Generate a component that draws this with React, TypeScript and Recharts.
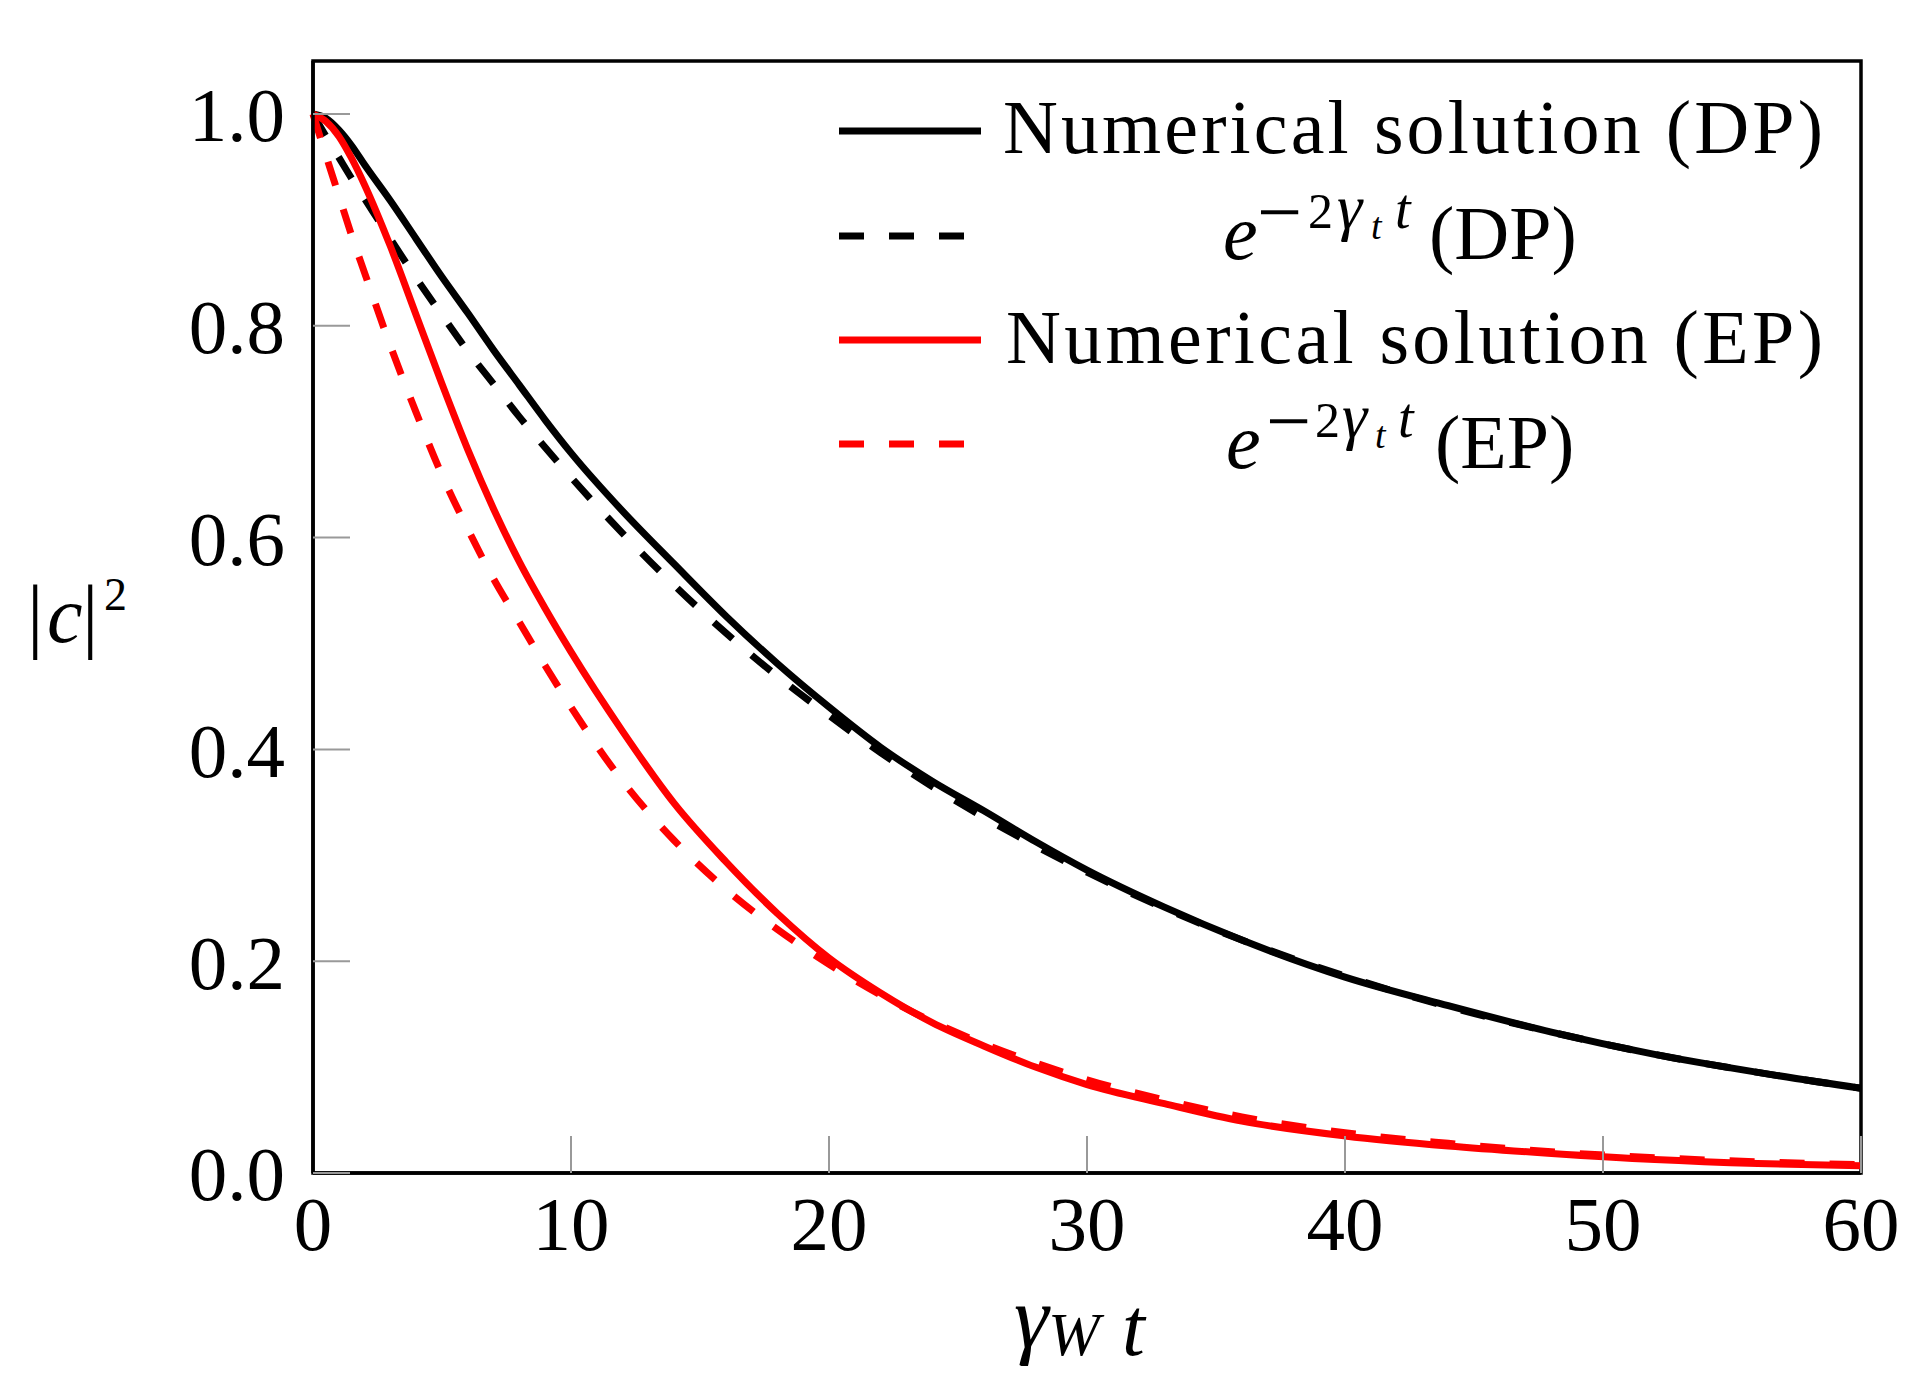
import React from 'react';
import { LineChart, Line, XAxis, YAxis, Legend, Label, ReferenceArea } from 'recharts';

const FONT = "'Liberation Serif', 'Times New Roman', serif";

const tValues = [0, 0.5, 1, 1.5, 2, 3, 4, 5, 6, 7, 8, 9, 10, 12, 14, 16, 18, 20, 22, 24, 26, 28, 30, 33, 36, 40, 44, 48, 52, 56, 60];
const dpNumerical = [1.0, 0.996, 0.985, 0.97, 0.952, 0.918, 0.882, 0.846, 0.812, 0.777, 0.744, 0.711, 0.68, 0.625, 0.575, 0.526, 0.481, 0.44, 0.402, 0.37, 0.342, 0.313, 0.286, 0.251, 0.22, 0.185, 0.158, 0.133, 0.112, 0.095, 0.08];
const dpExp = [1.0, 0.979, 0.959, 0.939, 0.92, 0.882, 0.845, 0.81, 0.776, 0.745, 0.714, 0.685, 0.657, 0.604, 0.555, 0.51, 0.469, 0.432, 0.397, 0.365, 0.336, 0.309, 0.284, 0.25, 0.22, 0.186, 0.157, 0.133, 0.112, 0.095, 0.08];
const epNumerical = [1.0, 0.993, 0.979, 0.958, 0.933, 0.875, 0.81, 0.745, 0.683, 0.627, 0.577, 0.533, 0.492, 0.417, 0.349, 0.294, 0.245, 0.203, 0.17, 0.142, 0.12, 0.1, 0.0835, 0.0655, 0.049, 0.035, 0.0255, 0.0185, 0.0128, 0.009, 0.0068];
const epExp = [1.0, 0.961, 0.923, 0.885, 0.85, 0.781, 0.718, 0.659, 0.608, 0.561, 0.52, 0.479, 0.44, 0.37, 0.314, 0.268, 0.23, 0.197, 0.168, 0.143, 0.122, 0.104, 0.088, 0.069, 0.053, 0.038, 0.028, 0.02, 0.0145, 0.0105, 0.0078];

const xTicks = [0, 10, 20, 30, 40, 50, 60];
const yTicks = [0, 0.2, 0.4, 0.6, 0.8, 1.0];
const xDomain = [0, 60];
const yDomain = [0, 1.05];

const data = tValues.map((t, i) => ({
  t,
  dpNum: dpNumerical[i],
  dpExp: dpExp[i],
  epNum: epNumerical[i],
  epExp: epExp[i],
}));

const BLACK = '#000000';
const RED = '#ff0000';
const DASH = '25 25';
const LW = 7;

function MathRow({ baseY, x, tag }: { baseY: number; x: number[]; tag: string }) {
  const sup = baseY - 31;
  return (
    <text fontFamily={FONT} fill="#000">
      <tspan x={x[0]} y={baseY} fontSize={78} fontStyle="italic">e</tspan>
      <tspan x={x[1]} y={sup + 11} fontSize={80}>−</tspan>
      <tspan x={x[2]} y={sup} fontSize={50}>2</tspan>
      <tspan x={x[3]} y={sup} fontSize={64} fontStyle="italic">γ</tspan>
      <tspan x={x[4]} y={sup + 11} fontSize={38} fontStyle="italic">t</tspan>
      <tspan x={x[5]} y={sup} fontSize={56} fontStyle="italic">t</tspan>
      <tspan x={x[6]} y={baseY} fontSize={76}>{'(' + tag + ')'}</tspan>
    </text>
  );
}

function LegendBox() {
  return (
    <svg width={1040} height={420} style={{ display: 'block', overflow: 'visible' }}>
      <line x1={9} x2={151} y1={51} y2={51} stroke={BLACK} strokeWidth={LW} />
      <text x={173} y={73} fontFamily={FONT} fontSize={76} fill="#000" textLength={820} lengthAdjust="spacing">
        Numerical solution (DP)
      </text>

      <line x1={9} x2={134} y1={156} y2={156} stroke={BLACK} strokeWidth={LW} strokeDasharray={DASH} />
      <MathRow baseY={179} x={[393, 427, 478, 507, 541, 565, 599]} tag="DP" />

      <line x1={9} x2={151} y1={260} y2={260} stroke={RED} strokeWidth={LW} />
      <text x={176} y={283} fontFamily={FONT} fontSize={76} fill="#000" textLength={817} lengthAdjust="spacing">
        Numerical solution (EP)
      </text>

      <line x1={9} x2={134} y1={364} y2={364} stroke={RED} strokeWidth={LW} strokeDasharray={DASH} />
      <MathRow baseY={388} x={[396, 436, 485, 512, 545, 568, 605]} tag="EP" />
    </svg>
  );
}

function XLabelContent() {
  return (
    <text fontFamily={FONT} fill="#000" fontStyle="italic">
      <tspan x={1006} y={1339} fontSize={88}>γ</tspan>
      <tspan x={1040} y={1347} fontSize={62}>W</tspan>
      <tspan x={1114} y={1347} fontSize={82}>t</tspan>
    </text>
  );
}

function YLabelContent() {
  return (
    <text fontFamily={FONT} fill="#000">
      <tspan x={19} y={634} fontSize={82}>|</tspan>
      <tspan x={39} y={634} fontSize={80} fontStyle="italic">c</tspan>
      <tspan x={74} y={634} fontSize={82}>|</tspan>
      <tspan x={96} y={602} fontSize={46}>2</tspan>
    </text>
  );
}

const tickStyle = { fill: '#000', fontSize: 77, fontFamily: FONT };

export default function App() {
  return (
    <div style={{ width: 1900, height: 1370, background: '#fff' }}>
      <LineChart
        width={1900}
        height={1370}
        data={data}
        margin={{ top: 53, right: 47, left: 205, bottom: 105 }}
      >
        <XAxis
          dataKey="t"
          type="number"
          domain={xDomain}
          ticks={xTicks}
          interval={0}
          height={100}
          axisLine={{ stroke: BLACK, strokeWidth: 3.5 }}
          tickLine={{ stroke: '#999', strokeWidth: 2 }}
          tickSize={-37}
          tickMargin={59}
          tick={tickStyle}
        >
          <Label content={() => <XLabelContent />} />
        </XAxis>
        <YAxis
          type="number"
          domain={yDomain}
          ticks={yTicks}
          interval={0}
          width={100}
          axisLine={{ stroke: BLACK, strokeWidth: 3.5 }}
          tickLine={{ stroke: '#999', strokeWidth: 2 }}
          tickSize={-37}
          tickMargin={65}
          tick={tickStyle}
          tickFormatter={(v: number) => v.toFixed(1)}
        >
          <Label content={() => <YLabelContent />} />
        </YAxis>
        <Legend
          layout="vertical"
          align="center"
          verticalAlign="middle"
          wrapperStyle={{ left: 822, top: 72, width: 1040, height: 420 }}
          content={() => <LegendBox />}
        />
        <Line dataKey="dpNum" name="Numerical solution (DP)" type="monotone" stroke={BLACK} strokeWidth={LW} dot={false} isAnimationActive={false} />
        <Line dataKey="dpExp" name="e^{-2γt t}(DP)" type="monotone" stroke={BLACK} strokeWidth={LW} strokeDasharray={DASH} dot={false} isAnimationActive={false} />
        <Line dataKey="epNum" name="Numerical solution (EP)" type="monotone" stroke={RED} strokeWidth={LW} dot={false} isAnimationActive={false} />
        <Line dataKey="epExp" name="e^{-2γt t}(EP)" type="monotone" stroke={RED} strokeWidth={LW} strokeDasharray={DASH} dot={false} isAnimationActive={false} />
        <ReferenceArea
          x1={xDomain[0]}
          x2={xDomain[1]}
          y1={yDomain[0]}
          y2={yDomain[1]}
          fill="none"
          fillOpacity={0}
          stroke={BLACK}
          strokeWidth={3.5}
          ifOverflow="visible"
        />
      </LineChart>
    </div>
  );
}
